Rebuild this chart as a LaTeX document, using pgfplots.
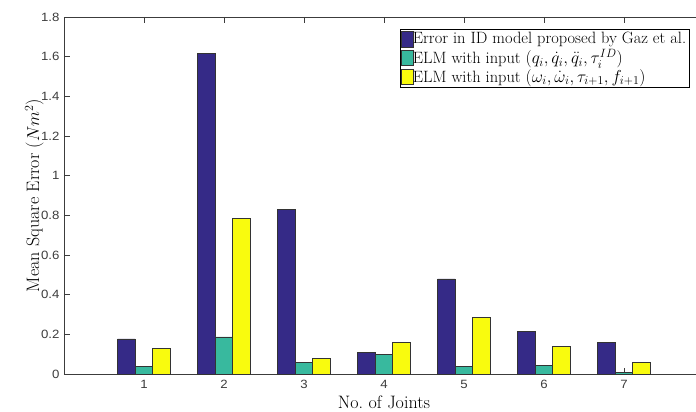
\documentclass[border=0pt]{standalone}
\usepackage{fontspec}
\newfontfamily\ticksans[FakeStretch=1.1]{Liberation Sans}
\usepackage{pgfplots}
\pgfplotsset{compat=1.18}
\definecolor{pblue}{RGB}{53,42,135}
\definecolor{pgreen}{RGB}{56,185,158}
\definecolor{pyellow}{RGB}{249,251,14}
\definecolor{axgray}{RGB}{60,60,60}
\begin{document}
\begin{tikzpicture}
\useasboundingbox (-64pt,-38pt) rectangle (632pt,374pt);
\clip (-64pt,-38pt) rectangle (632pt,374pt);
\begin{axis}[
  at={(0pt,0pt)}, anchor=south west,
  scale only axis, width=640pt, height=357pt,
  xmin=0, xmax=8, ymin=0, ymax=1.8,
  xtick={1,2,3,4,5,6,7},
  ytick={0,0.2,0.4,0.6,0.8,1,1.2,1.4,1.6,1.8},
  yticklabels={0,0.2,0.4,0.6,0.8,1,1.2,1.4,1.6,1.8},
  xticklabels={1,2,3,4,5,6,7},
  tick align=inside,
  major tick length=6pt,
  ytick pos=left,
  axis line style={axgray, line width=0.8pt},
  every tick/.style={axgray, line width=0.6pt},
  /pgf/number format/assume math mode=true,
  ticklabel style={font=\ticksans\fontsize{12}{14}\selectfont, text=axgray},
  xticklabel style={yshift=-3pt},
  yticklabel style={xshift=-1pt},
  xlabel={No.\ of Joints},
  ylabel={Mean Square Error ($Nm^2$)},
  xlabel style={font=\fontsize{18}{20}\selectfont, at={(axis description cs:0.5,-0.098)}, anchor=base},
  ylabel style={font=\fontsize{18}{20}\selectfont, at={(axis description cs:-0.039,0.5)}, anchor=base},
  legend cell align=left,
  legend style={at={(0.525,0.966)}, anchor=north west, draw=black, line width=0.6pt,
     font=\fontsize{16.4}{18.5}\selectfont, inner xsep=1pt, inner ysep=1pt,
     row sep=0pt, /tikz/every even column/.append style={column sep=2pt},
     /tikz/every odd column/.append style={column sep=-3pt}},
  legend image code/.code={\draw[#1, line width=0.6pt] (0pt,-8pt) rectangle (12pt,7.5pt);},
]
\addplot[ybar, bar width=0.22, bar shift=-0.22, fill=pblue, draw=black!80, line width=0.6pt]
  coordinates {(1,0.177) (2,1.615) (3,0.830) (4,0.107) (5,0.479) (6,0.215) (7,0.160)};
\addplot[ybar, bar width=0.22, bar shift=0, fill=pgreen, draw=black!80, line width=0.6pt]
  coordinates {(1,0.039) (2,0.187) (3,0.057) (4,0.099) (5,0.037) (6,0.044) (7,0.008)};
\addplot[ybar, bar width=0.22, bar shift=0.22, fill=pyellow, draw=black!80, line width=0.6pt]
  coordinates {(1,0.128) (2,0.783) (3,0.079) (4,0.160) (5,0.287) (6,0.138) (7,0.059)};
\addlegendentry{Error in ID model proposed by Gaz et al.}
\addlegendentry{ELM with input $(q_i,\dot{q}_i,\ddot{q}_i,\tau_i^{ID})$}
\addlegendentry{ELM with input $(\omega_i,\dot{\omega}_i,\tau_{i+1},f_{i+1})$}
\end{axis}
\end{tikzpicture}
\end{document}
